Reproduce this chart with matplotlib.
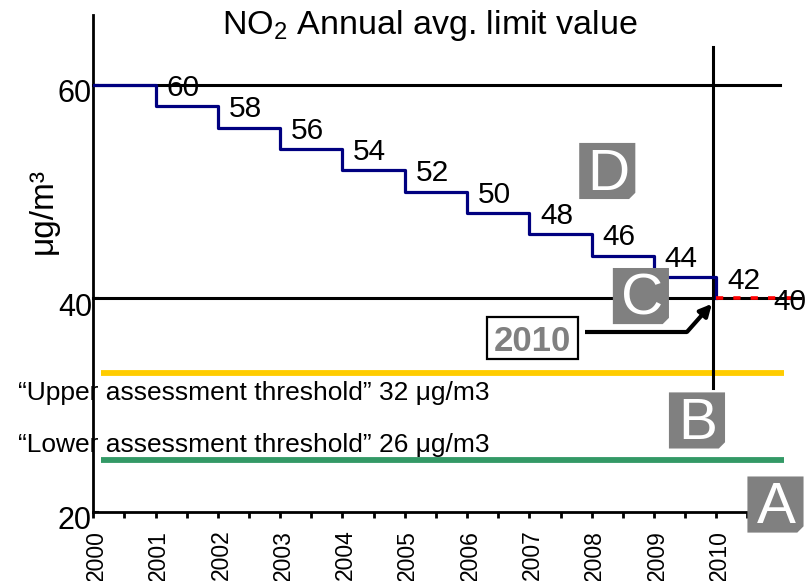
import numpy as np
import matplotlib
matplotlib.use("Agg")
import matplotlib.pyplot as plt
import matplotlib.transforms as mtransforms
from matplotlib.patches import Polygon, Rectangle

plt.rcParams['font.family'] = ['Liberation Sans', 'DejaVu Sans']
plt.rcParams['mathtext.default'] = 'regular'

# limit value steps (value valid from the given year on)
step_years = [2000, 2001, 2002, 2003, 2004, 2005, 2006, 2007, 2008, 2009, 2010]
step_values = [60, 58, 56, 54, 52, 50, 48, 46, 44, 42, 40]

# value labels written next to the steps
label_years = [2001, 2002, 2003, 2004, 2005, 2006, 2007, 2008, 2009, 2010, 2010.75]
label_values = [60, 58, 56, 54, 52, 50, 48, 46, 44, 42, 40]

# assessment thresholds (as drawn) and their captions
upper_level = 33.0
lower_level = 24.8
upper_text = "\u201cUpper assessment threshold\u201d 32 \u03bcg/m3"
lower_text = "\u201cLower assessment threshold\u201d 26 \u03bcg/m3"

# zone markers A-D: letter, x (year), y (ug/m3)
zone_letters = ['D', 'C', 'B', 'A']
zone_x = [2008.25, 2008.79, 2009.69, 2010.95]
zone_y = [51.93, 40.21, 28.55, 20.67]

year_ticks = list(range(2000, 2011))

fig = plt.figure(figsize=(8.07, 5.81), dpi=100)
ax = fig.add_axes([0.1156, 0.1193, 0.8878, 0.8549])
ax.set_xlim(2000, 2011.5)
ax.set_ylim(20, 66.55)

# reference lines
ax.plot([2000, 2011.02], [60, 60], color='black', lw=2.2, clip_on=False, zorder=2)
ax.plot([2000, 2011.35], [40, 40], color='black', lw=2.2, clip_on=False, zorder=2)

# thresholds
ax.plot([2000.12, 2011.09], [upper_level, upper_level], color='#ffcc00', lw=4.2,
        solid_capstyle='butt', clip_on=False, zorder=2)
ax.plot([2000.12, 2011.09], [lower_level, lower_level], color='#339966', lw=4.2,
        solid_capstyle='butt', clip_on=False, zorder=2)

# 2010 marker line
ax.plot([2009.94, 2009.94], [31.59, 63.55], color='black', lw=2.2, zorder=3)

# step of the limit value
ax.step(step_years, step_values, where='post', color='#000080', lw=2.3, zorder=4)
ax.plot([step_years[-1], 2011.4], [step_values[-1], step_values[-1]], color='#ff0000', lw=2.6,
        linestyle=(0, (2.0, 2.8)), solid_capstyle='butt', dash_capstyle='butt',
        clip_on=False, zorder=5)

for yr, v in zip(label_years, label_values):
    dy = -0.3 if v > 42 else -0.35
    ax.text(yr + 0.17, v + dy, str(v), fontsize=21.5, ha='left', va='center', zorder=6,
            clip_on=False)

# threshold captions
ax.text(1998.79, 31.12, upper_text, fontsize=19, ha='left', va='center', clip_on=False, zorder=6)
ax.text(1998.79, 26.25, lower_text, fontsize=19, ha='left', va='center', clip_on=False, zorder=6)

# zone boxes
pts = mtransforms.Affine2D().scale(1 / 72.) + fig.dpi_scale_trans
hw = 20.2
cut = 4.5
for letter, zx, zy in zip(zone_letters, zone_x, zone_y):
    tr = pts + mtransforms.ScaledTranslation(zx, zy, ax.transData)
    verts = [(-hw, -hw), (hw - cut, -hw), (hw, -hw + cut), (hw, hw), (-hw, hw)]
    ax.add_patch(Polygon(verts, closed=True, facecolor='#808080', edgecolor='none',
                         transform=tr, clip_on=False, zorder=7))
    ax.annotate(letter, (zx, zy), xytext=(0.5, -13.5), textcoords='offset points',
                fontsize=42, color='white', ha='center', va='baseline', zorder=8,
                annotation_clip=False)

# "2010" box with arrow
tr = pts + mtransforms.ScaledTranslation(2007.05, 36.28, ax.transData)
ax.add_patch(Rectangle((-32.5, -15), 65, 30, facecolor='white', edgecolor='black', lw=1.6,
                       transform=tr, zorder=7))
ax.text(2007.05, 36.28, '2010', fontsize=25, fontweight='bold', color='#808080',
        ha='center', va='center_baseline', zorder=8)
ax.plot([2007.89, 2009.53], [36.85, 36.85], color='black', lw=3, solid_capstyle='butt', zorder=8)
ax.annotate('', xy=(2009.93, 39.48), xytext=(2009.53, 36.85),
            arrowprops=dict(arrowstyle='-|>,head_length=0.7,head_width=0.35', color='black',
                            lw=3, shrinkA=0, shrinkB=0), zorder=8)

# title and y label
ax.text(2005.40, 65.6, r'NO$_2$ Annual avg. limit value', fontsize=24.5, ha='center', va='center')
fig.text(43 / 807, 1 - 211 / 581, '\u03bcg/m\u00b3', fontsize=24, rotation=90,
         ha='center', va='center')

# axes styling
for side in ['top', 'right']:
    ax.spines[side].set_visible(False)
ax.spines['left'].set_linewidth(2)
ax.spines['bottom'].set_linewidth(2)
ax.spines['bottom'].set_bounds(2000, 2010.5)

ax.set_xticks(year_ticks)
ax.set_xticks(np.arange(2000.5, 2011, 1.0), minor=True)
ax.set_xticklabels([str(y) for y in year_ticks], rotation=90, fontsize=16.5)
ax.tick_params(axis='x', which='both', direction='out', length=4, width=2, pad=9)
ax.set_yticks([20, 40, 60])
ax.set_yticklabels(['20', '40', '60'], fontsize=22)
ax.tick_params(axis='y', direction='in', length=4, width=1.5, pad=1)
offset = mtransforms.ScaledTranslation(0, -6 / 100, fig.dpi_scale_trans)
for lab in ax.get_yticklabels():
    lab.set_transform(lab.get_transform() + offset)
xoff = mtransforms.ScaledTranslation(3 / 100, 0, fig.dpi_scale_trans)
for lab in ax.get_xticklabels():
    lab.set_transform(lab.get_transform() + xoff)

fig.savefig('out.png', dpi=100)
